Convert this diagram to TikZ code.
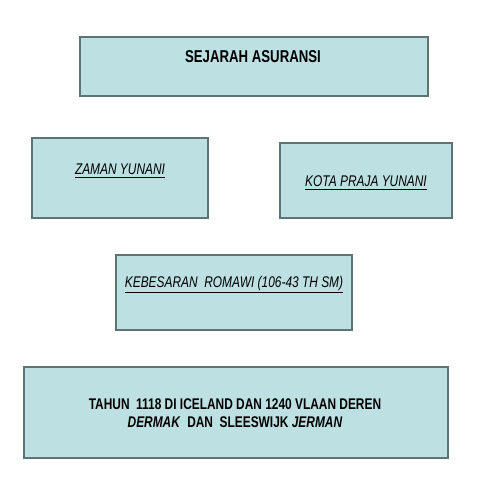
\documentclass[tikz,border=0pt]{standalone}
\usepackage{fontspec}
\setmainfont{Liberation Sans}
\newfontfamily\narrowfont[FakeStretch=0.77]{Liberation Sans}
\definecolor{boxfill}{HTML}{BDE0E3}
\definecolor{boxline}{HTML}{5E7375}
\tikzset{
  box/.style={draw=boxline, line width=0.9pt, fill=boxfill, inner sep=0pt},
  lbl/.style={font=\narrowfont\fontsize{11}{13}\selectfont\itshape, inner sep=0pt}
}
\begin{document}
\begin{tikzpicture}[x=0.025cm, y=-0.025cm]
        % Area del disegno
        \useasboundingbox (0,0) rectangle (480,480);

        % Riquadri
        \node[box, minimum width=8.7cm, minimum height=1.475cm] (titolo) at (254,66.5) {};
        \node[box, minimum width=4.4cm, minimum height=2cm] (yunani) at (120,178) {};
        \node[box, minimum width=4.3cm, minimum height=1.875cm] (kota) at (366,180.5) {};
        \node[box, minimum width=5.9cm, minimum height=1.875cm] (romawi) at (234,292.5) {};
        \node[box, minimum width=10.6cm, minimum height=2.275cm] (tahun) at (236,412.5) {};

        % Testi
        \node[inner sep=0pt, font=\narrowfont\fontsize{12.2}{14}\selectfont\bfseries] (ttitolo) at (253,57) {SEJARAH ASURANSI};
        \node[lbl] (tyunani) at (120,171) {\underline{ZAMAN YUNANI}};
        \node[lbl] (tkota) at (366,183) {\underline{KOTA PRAJA YUNANI}};
        \node[lbl] (tromawi) at (234,285) {\underline{KEBESARAN\ \ ROMAWI (106-43 TH SM)}};
        \node[inner sep=0pt, align=center, font=\narrowfont\fontsize{11}{12.5}\selectfont\bfseries] (ttahun) at (235,413)
            {TAHUN\ \ 1118 DI ICELAND DAN 1240 VLAAN DEREN\\ \textit{DERMAK}\ \ DAN\ \ SLEESWIJK \textit{JERMAN}};
\end{tikzpicture}
\end{document}
